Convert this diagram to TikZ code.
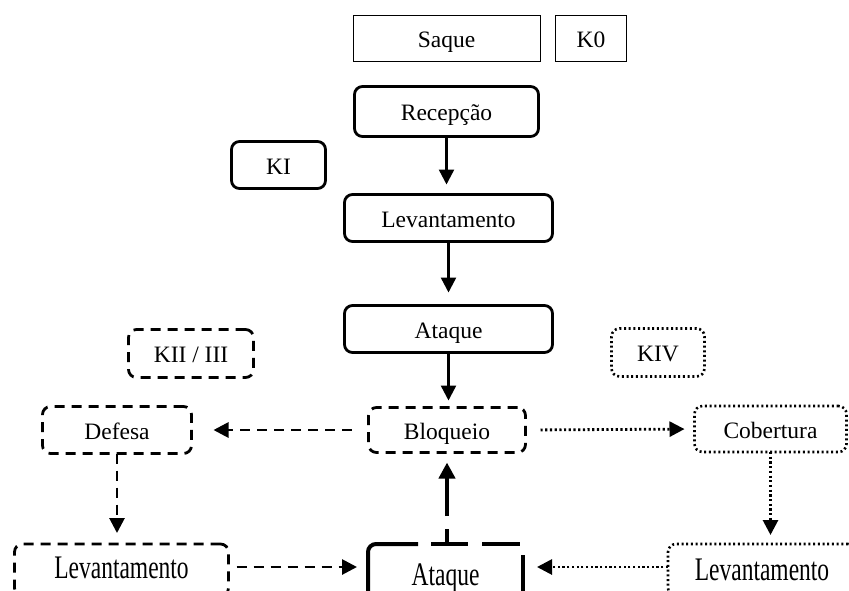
\documentclass[tikz,border=0pt]{standalone}
\usepackage{fontspec}
\usepackage{graphicx}
\setmainfont{Liberation Serif}
\usetikzlibrary{arrows.meta}
\tikzset{
  base/.style={inner sep=0pt, outer sep=0pt, text height=20pt, text depth=2pt,
    font=\fontsize{23.5}{28}\selectfont, align=center},
  plainbox/.style={base, draw, line width=0.8pt},
  solidbox/.style={base, draw, line width=2.8pt, rounded corners=8pt},
  dashbox/.style={base, draw, line width=2.8pt, rounded corners=8pt, dash pattern=on 10pt off 7pt},
  dotbox/.style={base, draw, line width=2.6pt, rounded corners=8pt, dash pattern=on 2pt off 2.7pt},
  lowrow/.style={minimum height=52pt, text height=20pt, text depth=4pt},
  thickb/.style={line width=4pt},
  arr/.style={-{Triangle[length=15pt,width=15pt]}, line width=2.4pt},
  dsh/.style={dash pattern=on 10pt off 7pt, line width=2.8pt},
  dtt/.style={dash pattern=on 2.2pt off 2.5pt, line width=2.8pt},
}
\newcommand{\tallt}[1]{\scalebox{1}[1.4]{#1}}
\begin{document}
\begin{tikzpicture}[x=1pt,y=-1pt]
\clip (0,0) rectangle (849,590);
\fill[white] (0,0) rectangle (849,590);
% top
\node[plainbox, minimum width=187pt, minimum height=46pt] (saque) at (446.5,38.5) {Saque};
\node[plainbox, minimum width=71pt, minimum height=46pt] (k0) at (591,38.5) {K0};
\node[solidbox, minimum width=184pt, minimum height=50pt] (rec) at (446.5,111.5) {Recepção};
\node[solidbox, minimum width=94pt, minimum height=47pt] (ki) at (278.5,165) {KI};
\node[solidbox, minimum width=208pt, minimum height=47pt] (lev) at (448.5,218) {Levantamento};
\node[solidbox, minimum width=208pt, minimum height=47pt] (atq) at (448.5,329) {Ataque};
% middle
\node[dashbox, minimum width=125pt, minimum height=48pt] (kii) at (191,353.5) {KII / III};
\node[dotbox, minimum width=93pt, minimum height=48pt] (kiv) at (658,352.5) {KIV};
\node[dashbox, minimum width=157pt, minimum height=45pt] (bloq) at (447,430) {Bloqueio};
\node[dashbox, minimum width=149pt, minimum height=47pt] (def) at (117,430) {Defesa};
\node[dotbox, minimum width=152pt, minimum height=46pt] (cob) at (770.5,429) {Cobertura};
% bottom
\node[dashbox, lowrow, minimum width=214pt] (levl) at (121.5,570) {\tallt{Levantamento}};
\node[base, lowrow, text height=34pt, minimum width=155pt] (atq2) at (445.5,570) {\tallt{Ataque}};
\node[dotbox, lowrow, text height=24pt, minimum width=188pt] (levr) at (762,570) {\tallt{Levantamento}};
% border of the bottom Ataque box (long dashes)
\draw[thickb, rounded corners=8pt] (atq2.south west) -- (atq2.north west) -- ([xshift=50pt]atq2.north west);
\draw[thickb] ([xshift=63pt]atq2.north west) -- ([xshift=100pt]atq2.north west);
\draw[thickb] ([xshift=114pt]atq2.north west) -- ([xshift=152pt]atq2.north west);
\draw[thickb, rounded corners=8pt] ([yshift=-11pt]atq2.north east) -- (atq2.south east);
% connectors
\draw[arr, shorten >=10pt] (rec.south) -- (rec.south |- lev.north);
\draw[arr, shorten >=13pt] (lev.south) -- (lev.south |- atq.north);
\draw[arr, shorten >=7pt] (atq.south) -- (atq.south |- bloq.north);
\draw[arr, dsh, shorten <=17pt, shorten >=22pt] (bloq.west) -- (def.east);
\draw[arr, dtt, shorten <=15pt, shorten >=10pt] (bloq.east) -- (cob.west);
\draw[arr, dsh, shorten >=11pt] (def.south) -- (def.south |- levl.north);
\draw[arr, dtt, shorten >=9pt] (cob.south) -- (cob.south |- levr.north);
\draw[arr, dsh, shorten <=8pt, shorten >=11pt] ([yshift=3pt]levl.east) -- ([yshift=3pt]atq2.west);
\draw[arr, dtt, shorten >=14pt] ([yshift=3pt]levr.west) -- ([yshift=3pt]atq2.east);
\draw[-{Triangle[length=16pt,width=16pt]}, line width=4pt, dash pattern=on 15pt off 13pt on 300pt, shorten >=10pt] (bloq.south |- atq2.north) -- (bloq.south);
\end{tikzpicture}
\end{document}
